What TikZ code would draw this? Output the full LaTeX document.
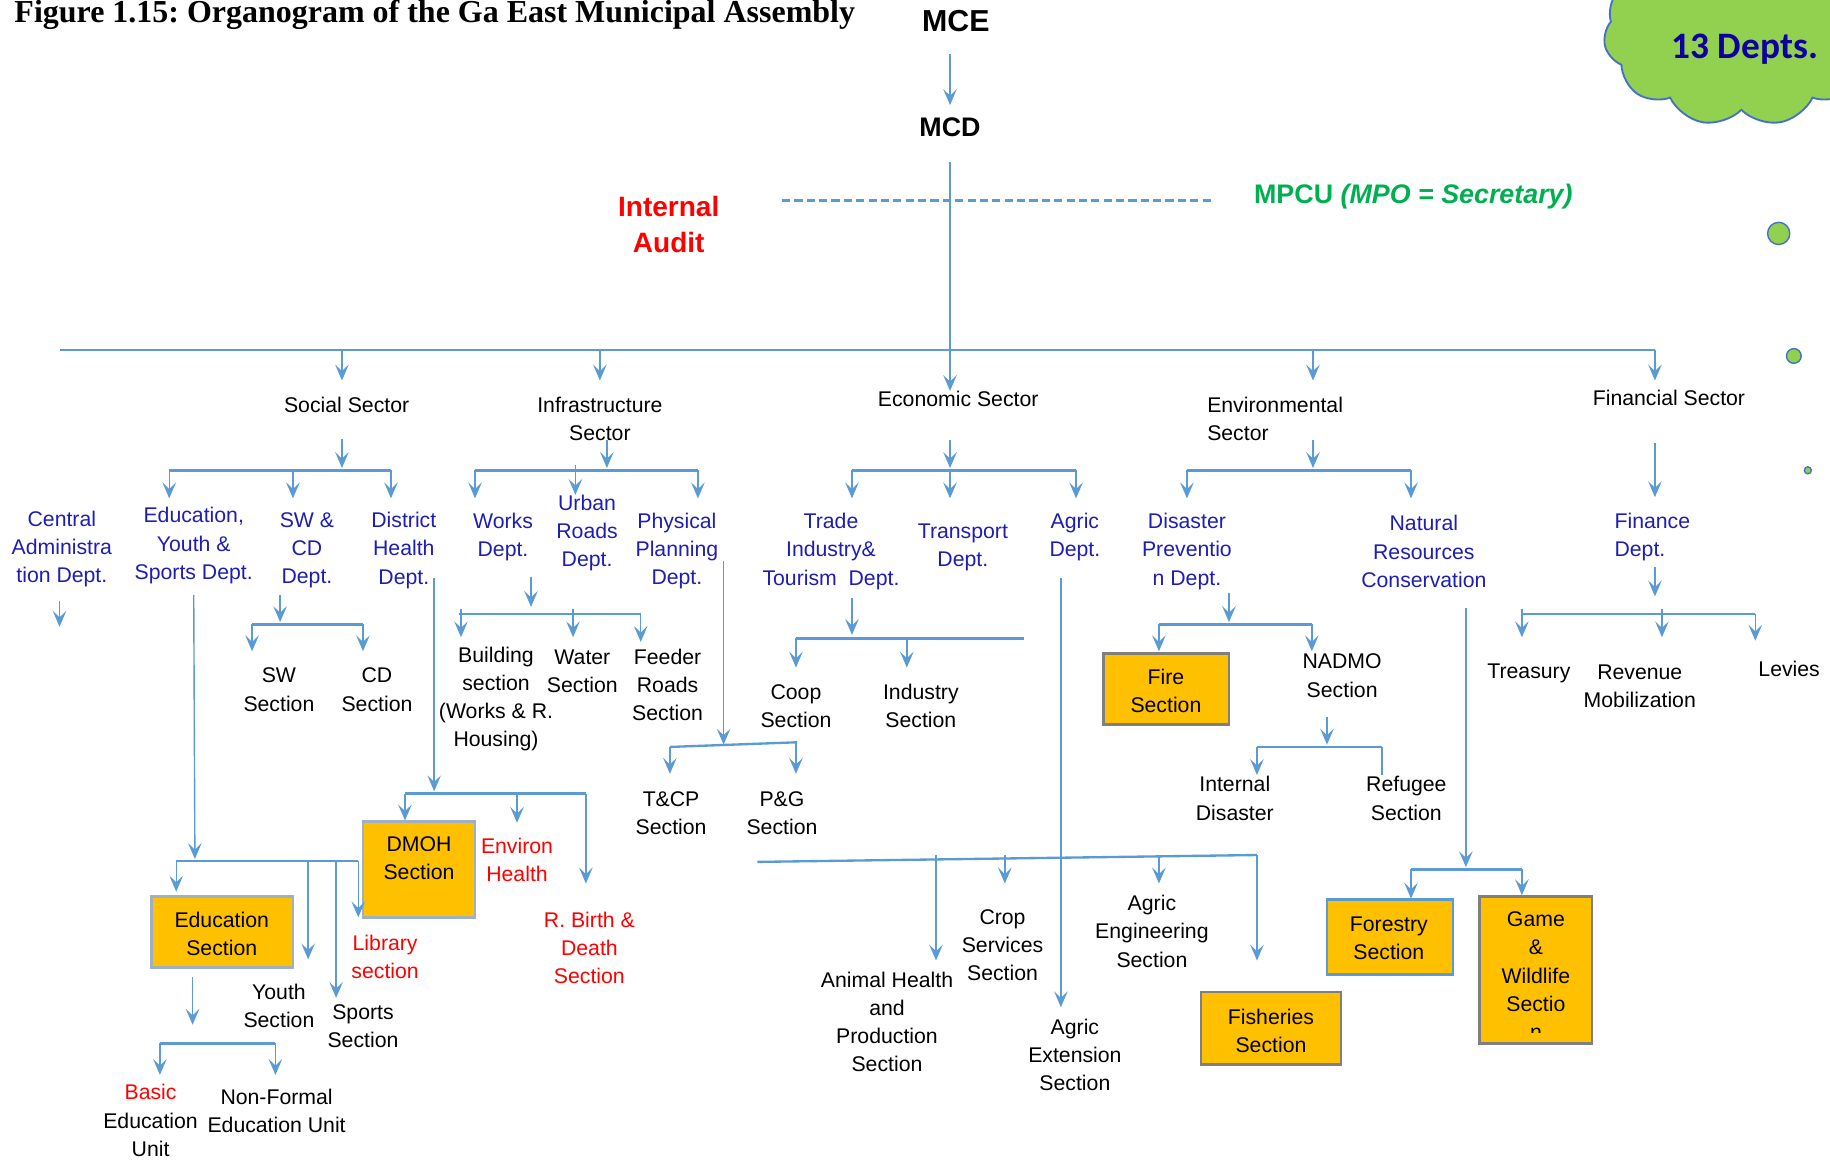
\documentclass[tikz,border=0pt]{standalone}
\usepackage{fontspec}
\setmainfont{Liberation Sans}
\newfontfamily\titlefont{Liberation Serif}
\newfontfamily\calfont{Carlito}
\usetikzlibrary{arrows.meta,shapes.symbols}
\definecolor{lblue}{HTML}{5B9BD5}
\definecolor{tblue}{RGB}{30,30,180}
\definecolor{navy}{RGB}{15,0,160}
\definecolor{mgreen}{HTML}{00B050}
\definecolor{cloudgreen}{HTML}{92D050}
\definecolor{cloudblue}{HTML}{4472C4}
\definecolor{orangebox}{HTML}{FFC000}
\definecolor{boxgray}{HTML}{7F7F7F}
\definecolor{boxlight}{HTML}{9DB0C4}
\frenchspacing
\tikzset{
  ln/.style={draw=lblue, line width=0.6pt},
  bar/.style={draw=lblue, line width=1pt},
  ar/.style={ln, -{Stealth[length=6.8pt,width=5.8pt,inset=2.8pt]}},
  txt/.style={align=center, inner sep=0pt, font=\fontsize{9.1}{12.1}\selectfont},
  btxt/.style={txt, text=tblue},
  rtxt/.style={txt, text=red},
  obox/.style={fill=orangebox, line width=1.2pt, inner sep=0pt},
  bub/.style={circle, draw=cloudblue, fill=cloudgreen, line width=0.6pt, inner sep=0pt},
}
\begin{document}
\begin{tikzpicture}[x=0.5pt,y=-0.5pt]
\useasboundingbox (0,0) rectangle (1568,995);
\clip (0,0) rectangle (1568,995);
\fill[white] (0,0) rectangle (1568,995);

% cloud and bubbles
\node[cloud, cloud puffs=11, cloud puff arc=110, aspect=1.6, draw=cloudblue, fill=cloudgreen, line width=0.8pt, minimum width=118pt, minimum height=80pt] (cloud) at (1492,28) {};
\node[font=\calfont\bfseries\fontsize{16}{18}\selectfont, text=navy, inner sep=0pt] (depts) at (1495,42) {13 Depts.};
\node[bub, minimum size=9.5pt] (bub1) at (1524,200) {};
\node[bub, minimum size=6.3pt] (bub2) at (1537,305) {};
\node[bub, minimum size=3pt] (bub3) at (1549,403) {};

% title and top
\node[anchor=base west, inner sep=0pt, font=\titlefont\bfseries\fontsize{13.7}{16}\selectfont] (title) at (12,19.4) {Figure 1.15: Organogram of the Ga East Municipal Assembly};
\node[font=\bfseries\fontsize{13}{15}\selectfont, inner sep=0pt] (mce) at (819,18) {MCE};
\node[font=\bfseries\fontsize{11.5}{14}\selectfont, inner sep=0pt] (mcd) at (814,109) {MCD};
\node[font=\bfseries\fontsize{12}{15.5}\selectfont, text=red, align=center, inner sep=0pt] (ia) at (573,192.5) {Internal\\Audit};
\node[font=\bfseries\fontsize{11.5}{14}\selectfont, text=mgreen, inner sep=0pt] (mpcu) at (1211,168) {MPCU \textit{(MPO = Secretary)}};

\draw[draw=lblue, line width=1.3pt, dash pattern=on 3.5pt off 1.8pt] (670,172) coordinate (dA) -- (1040,172) coordinate (dB);
\draw[ar] (814,46) coordinate (mceB) -- (814,90) coordinate (mcdT);
\draw[ar] (814,139) coordinate (mcdB) -- (814,335) coordinate (ecoT);

% main bar
\draw[bar] (51,300) coordinate (mbL) -- (1418,300) coordinate (mbR);
\draw[ar] (293,300) coordinate (m1) -- ++(0,26);
\draw[ar] (514,300) coordinate (m2) -- ++(0,26);
\draw[ar] (1125,300) coordinate (m4) -- ++(0,26);
\draw[ar] (mbR) -- ++(0,26);

% sectors
\node[txt] (soc) at (297,347) {Social Sector};
\node[txt] (inf) at (514,359) {Infrastructure\\Sector};
\node[txt] (eco) at (821,342) {Economic Sector};
\node[txt, align=left, anchor=west] (env) at (1034,359) {Environmental\\Sector};
\node[txt] (fin) at (1430,341) {Financial Sector};

% departments
\node[btxt] (cad) at (53,470.5) {Central\\Administra\\tion Dept.};
\node[btxt] (edu) at (166,467.5) {Education,\\Youth \&\\Sports Dept.};
\node[btxt] (swcd) at (263,471.5) {SW \&\\CD\\Dept.};
\node[btxt] (dh) at (346,471.5) {District\\Health\\Dept.};
\node[btxt] (works) at (431,460) {Works\\Dept.};
\node[btxt] (urban) at (503,456.5) {Urban\\Roads\\Dept.};
\node[btxt] (phys) at (580,472) {Physical\\Planning\\Dept.};
\node[btxt] (trade) at (712,472.5) {Trade\\Industry\&\\Tourism\ \ Dept.};
\node[btxt] (transp) at (825,469) {Transport\\Dept.};
\node[btxt] (agric) at (921,460) {Agric\\Dept.};
\node[btxt] (disas) at (1017,472.5) {Disaster\\Preventio\\n Dept.};
\node[btxt] (natres) at (1220,472.5) {Natural\\Resources\\Conservation};
\node[btxt, align=left, anchor=west] (finance) at (1383,460) {Finance\\Dept.};

% social sector links
\draw[ar] (293,376) coordinate (socB) -- (293,401);
\draw[bar] (145,403) coordinate (sbL) -- (335,403) coordinate (sbR);
\draw[ar] (sbL) -- ++(0,24);
\draw[ar] (251,403) coordinate (sbM) -- ++(0,24);
\draw[ar] (sbR) -- ++(0,24);
\draw[ar] (51,515) coordinate (cadB) -- ++(0,22);
\draw[ar] (240,510) coordinate (swcdB) -- (240,533);
\draw[bar] (216,535) coordinate (swL) -- (311,535) coordinate (swR);
\draw[ar] (swL) -- ++(0,23);
\draw[ar] (swR) -- ++(0,23);
\node[txt] (sw) at (239,591) {SW\\Section};
\node[txt] (cd) at (323,591) {CD\\Section};

% district health
\draw[ar] (372,495) coordinate (dhB) -- (372,678);
\draw[bar] (347,680) coordinate (dhL) -- (502,680) coordinate (dhR);
\draw[ar] (dhL) -- ++(0,23);
\draw[ar] (443,680) coordinate (dhM) -- ++(0,25);
\draw[ar] (dhR) -- ++(0,77);
\node[obox, draw=boxlight, minimum width=48pt, minimum height=41pt] (dmoh) at (359,745) {};
\node[txt] (dmohT) at (359,735) {DMOH\\Section};
\node[rtxt] (envh) at (443,737) {Environ\\Health};
\node[rtxt] (rbd) at (505,812) {R. Birth \&\\Death\\Section};

% education
\draw[ar] (166,510) coordinate (eduB) -- (167,736);
\draw[bar] (151,738) coordinate (ebL) -- (307,738) coordinate (ebR);
\draw[ar] (ebL) -- ++(0,26);
\draw[ar] (264,738) coordinate (ebY) -- ++(0,84);
\draw[ar] (288,738) coordinate (ebS) -- ++(0,117);
\draw[ar] (ebR) -- ++(0,48);
\node[obox, draw=boxlight, minimum width=60.5pt, minimum height=30.5pt] (edus) at (190.5,798.5) {};
\node[txt] (edusT) at (190,800) {Education\\Section};
\node[txt] (youth) at (239,862) {Youth\\Section};
\node[txt] (sports) at (311,879) {Sports\\Section};
\node[rtxt] (lib) at (330,820) {Library\\section};
\draw[ar] (165,837) coordinate (edusB) -- (165,878);
\draw[bar] (137,894) coordinate (ubL) -- (236,894) coordinate (ubR);
\draw[ar] (ubL) -- ++(0,27);
\draw[ar] (ubR) -- ++(0,27);
\node[txt] (basic) at (129,960) {\textcolor{red}{Basic}\\Education\\Unit};
\node[txt] (nfe) at (237,952) {Non-Formal\\Education Unit};

% infrastructure
\draw[ar] (520,377) coordinate (infB) -- (520,401);
\draw[bar] (407,403) coordinate (ibL) -- (598,403) coordinate (ibR);
\draw[ar] (ibL) -- ++(0,24);
\draw[ar] (493,398) coordinate (ibM) -- (493,424);
\draw[ar] (ibR) -- ++(0,24);
\draw[ar] (455,494) coordinate (worksB) -- (455,520);
\draw[bar] (393,526) coordinate (wbL) -- (549,526) coordinate (wbR);
\draw[ar] (395,522) coordinate (wb1) -- (395,546);
\draw[ar] (491,522) coordinate (wb2) -- (491,546);
\draw[ar] (wbR) -- ++(0,24);
\node[txt] (bld) at (425,599) {Building\\section\\(Works \& R.\\Housing)};
\node[txt] (water) at (499,575) {Water\\Section};
\node[txt] (feeder) at (572,587) {Feeder\\Roads\\Section};
\draw[ar] (620,481) coordinate (physB) -- (620,638);
\draw[bar] (574,640) coordinate (pbL) -- (683,636) coordinate (pbR);
\draw[ar] (pbL) -- ++(0,23);
\draw[ar] (682,636.5) coordinate (pbR2) -- (682,663);
\node[txt] (tcp) at (575,697) {T\&CP\\Section};
\node[txt] (pg) at (670,697) {P\&G\\Section};

% economic
\draw[ar] (814,377) coordinate (ecoB) -- (814,401);
\draw[bar] (730,403) coordinate (cbL) -- (922,403) coordinate (cbR);
\draw[ar] (cbL) -- ++(0,24);
\draw[ar] (814,403) coordinate (cbM) -- ++(0,24);
\draw[ar] (cbR) -- ++(0,24);
\draw[ar] (730,512) coordinate (tradeB) -- (730,544);
\draw[bar] (682,547) coordinate (tbL) -- (877,547) coordinate (tbR);
\draw[ar] (tbL) -- ++(0,25);
\draw[ar] (777,547) coordinate (tbM) -- ++(0,25);
\node[txt] (coop) at (682,605) {Coop\\Section};
\node[txt] (ind) at (789,605) {Industry\\Section};
\draw[ar] (909,495) coordinate (agricB) -- (909,863);
\draw[bar] (649,738.5) coordinate (abL) -- (1077,732.6) coordinate (abR);
\draw[ar] (802,733) coordinate (ab1) -- (802,823);
\draw[ar] (861,733) coordinate (ab2) -- (861,757);
\draw[ar] (993,733) coordinate (ab3) -- (993,757);
\draw[ar] (abR) -- (1077,823);
\node[txt] (animal) at (760,875.5) {Animal Health\\and\\Production\\Section};
\node[txt] (crop) at (859,810) {Crop\\Services\\Section};
\node[txt] (ageng) at (987,798) {Agric\\Engineering\\Section};
\node[txt] (agext) at (921,904) {Agric\\Extension\\Section};
\node[obox, draw=boxgray, minimum width=60pt, minimum height=31pt] (fish) at (1089,881) {};
\node[txt] (fishT) at (1089,883) {Fisheries\\Section};

% environmental
\draw[ar] (1125,377) coordinate (envB) -- (1125,401);
\draw[bar] (1017,403) coordinate (nbL) -- (1209,403) coordinate (nbR);
\draw[ar] (nbL) -- ++(0,24);
\draw[ar] (nbR) -- ++(0,24);
\draw[ar] (1053,508) coordinate (disB) -- (1053,533);
\draw[bar] (993,535) coordinate (dbL) -- (1124,535) coordinate (dbR);
\draw[ar] (dbL) -- ++(0,23);
\draw[ar] (dbR) -- ++(0,23);
\node[obox, draw=boxgray, minimum width=53.7pt, minimum height=30.5pt] (fire) at (999.3,590.5) {};
\node[txt] (fireT) at (999,592) {Fire\\Section};
\node[txt] (nadmo) at (1150,579) {NADMO\\Section};
\draw[ar] (1137,614) coordinate (nadB) -- (1137,638);
\draw[bar] (1077,640) coordinate (ndL) -- (1184,640) coordinate (ndR);
\draw[ar] (ndL) -- ++(0,24);
\draw[ln] (ndR) -- ++(0,24);
\node[txt] (intd) at (1058,684) {Internal\\Disaster};
\node[txt] (refug) at (1205,684) {Refugee\\Section};
\draw[ar] (1256,521) coordinate (natB) -- (1256,743);
\draw[bar] (1209,745) coordinate (fbL) -- (1304,745) coordinate (fbR);
\draw[ar] (fbL) -- ++(0,25);
\draw[ar] (fbR) -- ++(0,22);
\node[obox, draw=lblue, minimum width=54pt, minimum height=32pt] (forest) at (1191,803) {};
\node[txt] (forestT) at (1190,804) {Forestry\\Section};
\node[obox, draw=boxgray, minimum width=48pt, minimum height=63pt] (game) at (1316,831) {};
\begin{scope}
\clip (1270,770) rectangle (1362,885);
\node[txt] (gameT) at (1316,836) {Game\\\&\\Wildlife\\Sectio\\n};
\end{scope}

% financial
\draw[ar] (1418,380) coordinate (finB) -- (1418,426);
\draw[ar] (1418,486) coordinate (financeB) -- (1418,511);
\draw[bar] (1304,526) coordinate (qbL) -- (1504,526) coordinate (qbR);
\draw[ar] (1304,522) coordinate (qb1) -- (1304,546);
\draw[ar] (1424,522) coordinate (qb2) -- (1424,546);
\draw[ar] (qbR) -- ++(0,23);
\node[txt] (treas) at (1310,577) {Treasury};
\node[txt] (rev) at (1405,588) {Revenue\\Mobilization};
\node[txt] (lev) at (1533,573) {Levies};
\end{tikzpicture}
\end{document}
